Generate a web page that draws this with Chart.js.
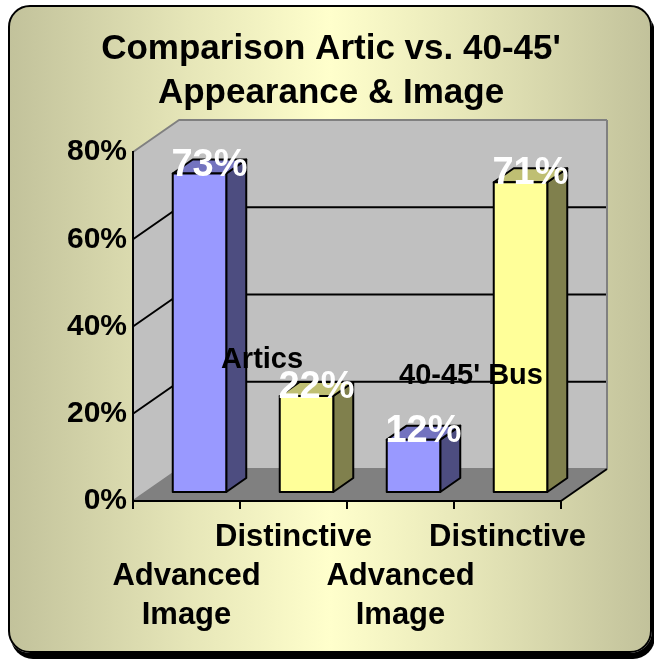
<!DOCTYPE html>
<html lang="en">
<head>
  <meta charset="UTF-8" />
  <title>Comparison Artic vs. 40-45' Appearance &amp; Image</title>
  <script src="https://cdn.jsdelivr.net/npm/chart.js"></script>
  <style>
    html, body {
      margin: 0;
      padding: 0;
      width: 654px;
      height: 660px;
      overflow: hidden;
      background: #fff;
    }

    .tarjeta {
      position: absolute;
      left: 8px;
      top: 5px;
      width: 644px;
      height: 648px;
      box-sizing: border-box;
      border: 2px solid #000;
      border-radius: 22px;
      box-shadow: 3px 6px 0 #000;
      background: linear-gradient(to right, #c2c29b 0%, #e6e6b8 28%, #ffffcc 50%, #e6e6b8 72%, #c2c29b 100%);
    }

    canvas {
      position: absolute;
      left: 0;
      top: 0;
    }
  </style>
</head>
<body>
  <div class="tarjeta"></div>
  <canvas id="grafico" width="654" height="660"></canvas>

  <script>
    // datos
    const categories = [
      ["", "Advanced", "Image"],
      ["Distinctive"],
      ["", "Advanced", "Image"],
      ["Distinctive"]
    ];
    const values = [73, 22, 12, 71];
    const groups = ["Artics", "40-45' Bus"];
    const yMax = 80;
    const yStep = 20;

    // estilo de las caras de cada barra: frente, lado, arriba
    const faces = [
      ["#9999ff", "#4d4d80", "#7373bf"],
      ["#ffff99", "#80804d", "#bfbf73"],
      ["#9999ff", "#4d4d80", "#7373bf"],
      ["#ffff99", "#80804d", "#bfbf73"]
    ];

    const FONT = "'Liberation Sans', Arial, sans-serif";
    const WALL = { x: 46, y: -32 };   // profundidad de las paredes
    const BAR = { x: 13, y: -9 };     // desplazamiento de las barras
    const DEPTH = { x: 20, y: -14 };  // grosor de cada barra

    function poly(ctx, pts, fill, stroke, lw) {
      ctx.beginPath();
      ctx.moveTo(pts[0][0], pts[0][1]);
      for (let i = 1; i < pts.length; i++) ctx.lineTo(pts[i][0], pts[i][1]);
      ctx.closePath();
      if (fill) { ctx.fillStyle = fill; ctx.fill(); }
      if (stroke) { ctx.strokeStyle = stroke; ctx.lineWidth = lw; ctx.stroke(); }
    }

    const caja3d = {
      id: 'caja3d',
      beforeDraw(chart) {
        const ctx = chart.ctx;
        const { left: L, right: R, top: T, bottom: B } = chart.chartArea;
        const y = chart.scales.y;
        ctx.save();
        ctx.lineJoin = 'round';

        // pared izquierda y pared del fondo
        poly(ctx, [[L, B], [L, T], [L + WALL.x, T + WALL.y], [L + WALL.x, B + WALL.y]], '#c0c0c0');
        poly(ctx, [[L + WALL.x, T + WALL.y], [R + WALL.x, T + WALL.y], [R + WALL.x, B + WALL.y], [L + WALL.x, B + WALL.y]], '#c0c0c0');

        // lineas de la cuadricula
        y.ticks.forEach(t => {
          const py = y.getPixelForValue(t.value);
          ctx.beginPath();
          ctx.moveTo(L, py);
          ctx.lineTo(L + WALL.x, py + WALL.y);
          ctx.lineTo(R + WALL.x, py + WALL.y);
          const borde = t.value === 0 || t.value === yMax;
          ctx.strokeStyle = borde ? '#808080' : '#000';
          ctx.lineWidth = 2;
          ctx.stroke();
        });

        // borde derecho de la pared
        ctx.beginPath();
        ctx.moveTo(R + WALL.x, T + WALL.y);
        ctx.lineTo(R + WALL.x, B + WALL.y);
        ctx.strokeStyle = '#808080';
        ctx.lineWidth = 2;
        ctx.stroke();

        // piso
        poly(ctx, [[L, B], [R, B], [R + WALL.x, B + WALL.y], [L + WALL.x, B + WALL.y]], '#808080');
        ctx.beginPath();
        ctx.moveTo(R, B);
        ctx.lineTo(R + WALL.x, B + WALL.y);
        ctx.strokeStyle = '#000';
        ctx.lineWidth = 2;
        ctx.stroke();
        ctx.restore();
      },
      afterDatasetsDraw(chart) {
        const ctx = chart.ctx;
        const meta = chart.getDatasetMeta(0);
        const x = chart.scales.x;
        const y = chart.scales.y;
        ctx.save();
        ctx.lineJoin = 'round';

        meta.data.forEach((el, i) => {
          const { x: cx, y: top, base, width } = el.getProps(['x', 'y', 'base', 'width'], true);
          const x0 = cx - width / 2 + BAR.x;
          const x1 = cx + width / 2 + BAR.x;
          const y0 = top + BAR.y;
          const y1 = base + BAR.y;
          const [front, side, up] = faces[i];
          poly(ctx, [[x1, y0], [x1 + DEPTH.x, y0 + DEPTH.y], [x1 + DEPTH.x, y1 + DEPTH.y], [x1, y1]], side, '#000', 2);
          poly(ctx, [[x0, y0], [x0 + DEPTH.x, y0 + DEPTH.y], [x1 + DEPTH.x, y0 + DEPTH.y], [x1, y0]], up, '#000', 2);
          poly(ctx, [[x0, y0], [x1, y0], [x1, y1], [x0, y1]], front, '#000', 2);
        });

        // nombres de los grupos
        ctx.fillStyle = '#000';
        ctx.font = 'bold 29px ' + FONT;
        ctx.textAlign = 'center';
        ctx.textBaseline = 'middle';
        const gy = [32, 28.5];
        const gx = [22, 17];
        groups.forEach((g, k) => {
          const mid = (x.getPixelForValue(2 * k) + x.getPixelForValue(2 * k + 1)) / 2;
          ctx.fillText(g, mid + gx[k], y.getPixelForValue(gy[k]) - 1);
        });

        // etiquetas de valores
        ctx.fillStyle = '#fff';
        ctx.font = 'bold 38px ' + FONT;
        ctx.textBaseline = 'alphabetic';
        meta.data.forEach((el, i) => {
          const cx = el.x + BAR.x + DEPTH.x / 2;
          ctx.fillText(values[i] + '%', cx, el.y + BAR.y + 2);
        });
        ctx.restore();
      }
    };

    Chart.defaults.font.family = FONT;

    new Chart(document.getElementById('grafico').getContext('2d'), {
      type: 'bar',
      data: {
        labels: categories,
        datasets: [{
          data: values,
          yAxisID: 'y',
          backgroundColor: 'rgba(0,0,0,0)',
          borderWidth: 0,
          barPercentage: 0.5,
          categoryPercentage: 1
        }]
      },
      options: {
        responsive: false,
        animation: false,
        devicePixelRatio: 1,
        layout: { padding: { left: 8, right: 0, top: 0, bottom: 0 } },
        plugins: {
          legend: { display: false },
          tooltip: { enabled: false },
          title: {
            display: true,
            text: ["Comparison Artic vs. 40-45'", 'Appearance & Image'],
            color: '#000',
            font: { size: 35, weight: 'bold', lineHeight: 44 / 35 },
            padding: { top: 27, bottom: 37 }
          }
        },
        scales: {
          x: {
            afterFit(scale) { scale.height = 159; },
            grid: { display: true, drawOnChartArea: false, drawTicks: true, tickLength: 8, color: '#000', lineWidth: 2, offset: true },
            border: { display: true, color: '#000', width: 2 },
            ticks: {
              color: '#000',
              padding: 9,
              maxRotation: 0,
              minRotation: 0,
              autoSkip: false,
              font: { size: 31, weight: 'bold', lineHeight: 39 / 31 }
            }
          },
          y: {
            min: 0,
            max: yMax,
            afterFit(scale) { scale.width = 125; },
            grid: { display: false, drawTicks: false },
            border: { display: true, color: '#000', width: 2 },
            ticks: {
              stepSize: yStep,
              color: '#000',
              padding: 6,
              font: { size: 30, weight: 'bold' },
              callback: v => v + '%'
            }
          },
          // espacio vacio a la derecha para la profundidad del grafico
          margen: {
            position: 'right',
            afterFit(scale) { scale.width = 93; },
            grid: { display: false, drawTicks: false },
            border: { display: false },
            ticks: { display: false }
          }
        }
      },
      plugins: [caja3d]
    });
  </script>
</body>
</html>
